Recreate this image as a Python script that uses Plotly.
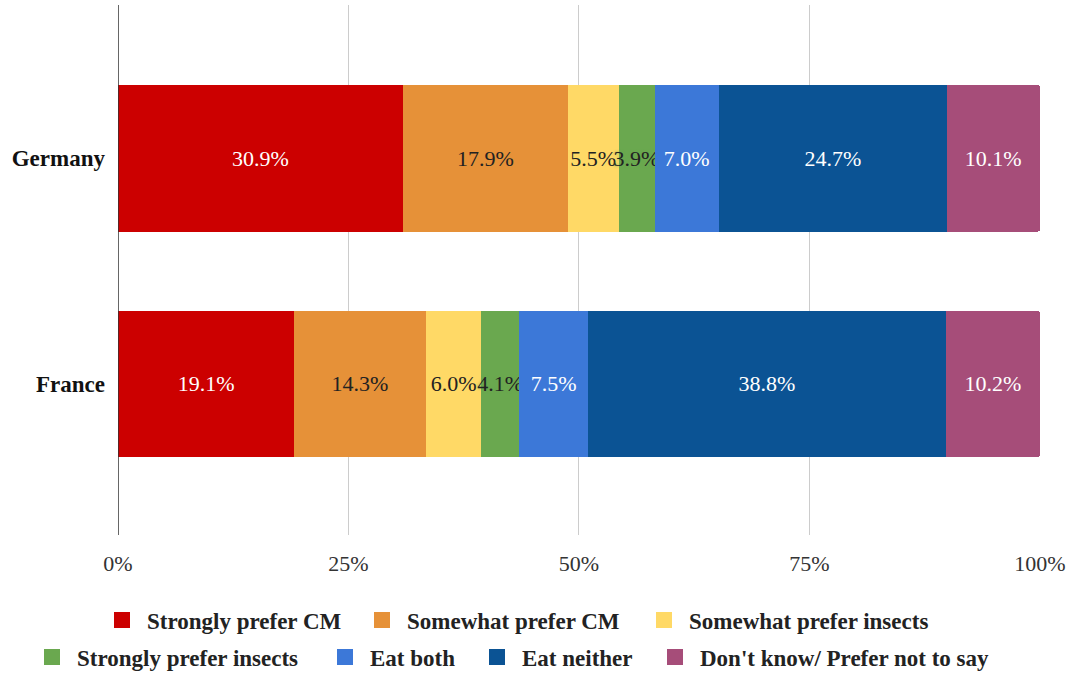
import plotly.graph_objects as go

countries = ["France", "Germany"]
categories = [
    "Strongly prefer CM",
    "Somewhat prefer CM",
    "Somewhat prefer insects",
    "Strongly prefer insects",
    "Eat both",
    "Eat neither",
    "Don't know/ Prefer not to say",
]
# share of respondents (%) per category, ordered as countries
strongly_cm = [19.1, 30.9]
somewhat_cm = [14.3, 17.9]
somewhat_insects = [6.0, 5.5]
strongly_insects = [4.1, 3.9]
eat_both = [7.5, 7.0]
eat_neither = [38.8, 24.7]
dont_know = [10.2, 10.1]

series = [strongly_cm, somewhat_cm, somewhat_insects, strongly_insects,
          eat_both, eat_neither, dont_know]
colors = ["#CC0000", "#E69138", "#FFD966", "#6AA84F", "#3C78D8", "#0B5394", "#A64D79"]
text_colors = ["#FFFFFF", "#222222", "#222222", "#222222", "#FFFFFF", "#FFFFFF", "#FFFFFF"]
tick_vals = [0, 25, 50, 75, 100]
tick_text = ["0%", "25%", "50%", "75%", "100%"]

FONT = "Liberation Serif"

# legend layout: two centred rows, one legend box per entry (left edge px, row centre px)
legend_slots = [(97, 620), (357, 620), (639, 620),
                (27, 657), (320, 657), (472, 657), (650, 657)]
W, H = 1076, 676

fig = go.Figure()
for i, (name, vals) in enumerate(zip(categories, series)):
    tf = dict(family=FONT, size=22, color=text_colors[i])
    if name == "Strongly prefer insects":
        tf["shadow"] = "0px 0px 3px #6AA84F"
    leg = "legend" if i == 0 else f"legend{i + 1}"
    fig.add_trace(go.Bar(
        y=countries, x=vals, name=name, orientation="h",
        marker=dict(color=colors[i], line=dict(width=0)),
        texttemplate="%{x:.1f}%", textposition="inside",
        insidetextanchor="middle", textangle=0, constraintext="none",
        textfont=tf, cliponaxis=False,
        legendgroup=name, showlegend=False,
        hoverinfo="name+x",
    ))
    # legend key (larger square swatch than the default bar key)
    fig.add_trace(go.Scatter(
        x=[None], y=[None], mode="markers", name=name,
        marker=dict(symbol="square", size=16, color=colors[i]),
        legendgroup=name, legend=leg, showlegend=True, hoverinfo="skip",
    ))

legend_font = dict(family=FONT, size=23, color="#222222", weight="bold")
legends = {}
for i, (lx, ly) in enumerate(legend_slots):
    key = "legend" if i == 0 else f"legend{i + 1}"
    legends[key] = dict(
        orientation="h", xref="container", yref="container",
        x=lx / W, xanchor="left", y=1 - ly / H, yanchor="middle",
        font=legend_font, itemwidth=40, itemsizing="trace",
        bgcolor="rgba(0,0,0,0)",
    )

fig.update_layout(
    barmode="stack",
    bargap=0.35,
    barcornerradius=2,
    width=W, height=H,
    margin=dict(l=118, r=36, t=5, b=141, autoexpand=False),
    plot_bgcolor="white", paper_bgcolor="white",
    font=dict(family=FONT, size=18, color="#222222"),
    xaxis=dict(range=[0, 100.02], tickvals=tick_vals, ticktext=tick_text,
               showgrid=True, gridcolor="#CCCCCC", gridwidth=1,
               zeroline=False, showline=False, ticks="", ticklabelstandoff=13,
               tickfont=dict(family=FONT, size=22, color="#333333")),
    yaxis=dict(range=[-0.67, 1.68], showgrid=False, zeroline=False,
               showline=False, ticks="", ticklabelstandoff=12,
               tickfont=dict(family=FONT, size=23, color="#111111", weight="bold")),
    showlegend=True,
    shapes=[dict(type="line", xref="x", yref="paper", x0=0, x1=0, y0=0, y1=1,
                 line=dict(color="#333333", width=1.5), layer="above")],
    **legends,
)

fig.write_html("out.html")
